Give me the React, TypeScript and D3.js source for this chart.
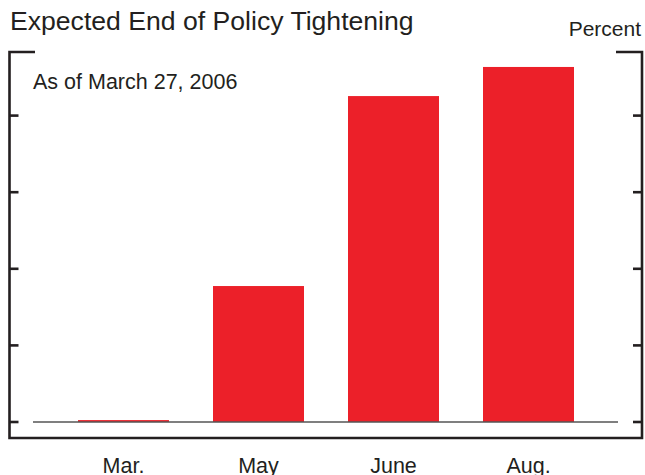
import React, { useEffect, useRef } from 'react';
import * as d3 from 'd3';

const months = ['Mar.', 'May', 'June', 'Aug.'];
const probabilities = [0.5, 35.5, 85.1, 92.7];
const yTicks = [0, 20, 40, 60, 80];

const title = 'Expected End of Policy Tightening';
const unitLabel = 'Percent';
const note = 'As of March 27, 2006';

const WIDTH = 645;
const HEIGHT = 475;
const FONT = '"Liberation Sans", Arial, Helvetica, sans-serif';

const App: React.FC = () => {
  const svgRef = useRef<SVGSVGElement>(null);

  useEffect(() => {
    if (!svgRef.current) return;
    const svg = d3.select(svgRef.current);
    svg.selectAll('*').remove();

    // frame geometry
    const frameLeft = 9.5;
    const frameRight = 642;
    const frameTop = 52;
    const frameBottom = 438;
    const ink = '#231f20';

    const xScale = d3.scaleBand<string>()
      .domain(months)
      .range([56, 596])
      .paddingInner(0.326)
      .paddingOuter(0.163);

    const yScale = d3.scaleLinear()
      .domain([0, 100])
      .range([422, 39]);

    // bars
    svg.append('g')
      .selectAll('rect')
      .data(months)
      .join('rect')
      .attr('x', d => xScale(d) as number)
      .attr('width', xScale.bandwidth())
      .attr('y', (d, i) => yScale(probabilities[i]))
      .attr('height', (d, i) => yScale(0) - yScale(probabilities[i]))
      .attr('fill', '#ec2029');

    // zero line
    svg.append('line')
      .attr('x1', 33)
      .attr('x2', 618)
      .attr('y1', yScale(0))
      .attr('y2', yScale(0))
      .attr('stroke', '#555')
      .attr('stroke-width', 1.6);

    // frame brackets
    const frame = svg.append('g')
      .attr('fill', 'none')
      .attr('stroke', ink)
      .attr('stroke-width', 2.6);

    frame.append('path')
      .attr('d', `M35,${frameTop}H${frameLeft}V${frameBottom}H${frameRight}V${frameTop}H616`);

    // ticks on both sides
    frame.selectAll('line.left-tick')
      .data(yTicks)
      .join('line')
      .attr('class', 'left-tick')
      .attr('x1', frameLeft)
      .attr('x2', frameLeft + 9)
      .attr('y1', d => yScale(d))
      .attr('y2', d => yScale(d));

    frame.selectAll('line.right-tick')
      .data(yTicks)
      .join('line')
      .attr('class', 'right-tick')
      .attr('x1', frameRight - 9)
      .attr('x2', frameRight)
      .attr('y1', d => yScale(d))
      .attr('y2', d => yScale(d));

    // category labels (cut by the bottom edge, as in the source)
    svg.append('g')
      .selectAll('text')
      .data(months)
      .join('text')
      .attr('x', d => (xScale(d) as number) + xScale.bandwidth() / 2)
      .attr('y', 473)
      .attr('text-anchor', 'middle')
      .attr('font-family', FONT)
      .attr('font-size', 21.5)
      .attr('fill', ink)
      .text(d => d);

    // title, unit and note
    svg.append('text')
      .attr('x', 10)
      .attr('y', 30)
      .attr('font-family', FONT)
      .attr('font-size', 26.6)
      .attr('fill', ink)
      .text(title);

    svg.append('text')
      .attr('x', 641)
      .attr('y', 36)
      .attr('text-anchor', 'end')
      .attr('font-family', FONT)
      .attr('font-size', 21)
      .attr('fill', ink)
      .text(unitLabel);

    svg.append('text')
      .attr('x', 33)
      .attr('y', 89)
      .attr('font-family', FONT)
      .attr('font-size', 21.5)
      .attr('fill', ink)
      .text(note);
  }, []);

  return (
    <svg
      ref={svgRef}
      width={WIDTH}
      height={HEIGHT}
      style={{ position: 'absolute', left: 0, top: 0, background: '#fff' }}
    />
  );
};

export default App;
